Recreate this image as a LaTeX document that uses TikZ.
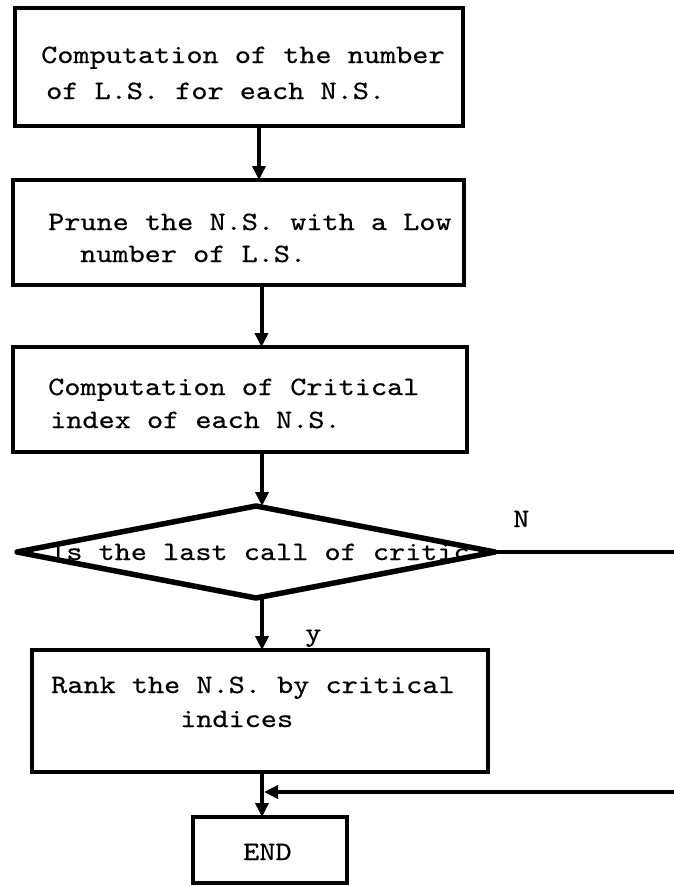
\documentclass[tikz,border=0pt]{standalone}
\usepackage{fontspec}
\usetikzlibrary{shapes.geometric,arrows.meta}

% typewriter face, widened and darkened a little
\newfontfamily\twfont{lmmono10-regular.otf}[FakeStretch=1.16, FakeBold=0.5]

\begin{document}
\begin{tikzpicture}[x=1pt,y=-1pt,
  box/.style={draw, line width=4.5pt, rectangle, inner sep=0pt, outer sep=0pt},
  decision/.style={draw, line width=5.5pt, diamond, line join=round, inner sep=0pt, outer sep=0pt},
  txt/.style={inner sep=0pt, anchor=base west, font=\twfont\fontsize{26.5}{30}\selectfont},
  flow/.style={line width=4pt},
  arr/.style={flow, -{Triangle[width=13pt,length=14pt]}}
]
\useasboundingbox[fill=white] (0,0) rectangle (673,886);

% boxes
\node[box, minimum width=448pt, minimum height=118pt] (b1) at (239,67) {};
\node[box, minimum width=451pt, minimum height=105pt] (b2) at (238.5,232.5) {};
\node[box, minimum width=454pt, minimum height=105pt] (b3) at (240,399.5) {};
\node[decision, minimum width=478pt, minimum height=92pt] (d) at (256,552) {};
\node[box, minimum width=456pt, minimum height=122pt] (b4) at (260,711) {};
\node[box, minimum width=154pt, minimum height=66pt] (e) at (270,850) {};

% texts
\node[txt] (t1a) at (41,63) {Computation of the number};
\node[txt] (t1b) at (46,99) {of L.S. for each N.S.};
\node[txt] (t2a) at (48,230) {Prune the N.S. with a Low};
\node[txt] (t2b) at (80,262) {number of L.S.};
\node[txt] (t3a) at (48,395) {Computation of Critical};
\node[txt] (t3b) at (50,428) {index of each N.S.};
\node[txt] (td)  at (50,560) {Is the last call of critic};
\node[txt] (tn)  at (513,527) {N};
\node[txt] (ty)  at (305,641) {y};
\node[txt] (t4a) at (51,693) {Rank the N.S. by critical};
\node[txt] (t4b) at (180,727) {indices};
\node[txt] (te)  at (243,860) {END};

% connectors
\coordinate (j) at (262,792);
\coordinate (rt) at (700,552);
\draw[arr] ([xshift=20pt]b1.south) -- ([xshift=20pt]b1.south |- b2.north);
\draw[arr] ([xshift=23pt]b2.south) -- ([xshift=23pt]b2.south |- b3.north);
\draw[arr] ([xshift=22pt]b3.south) -- ([xshift=22pt]b3.south |- d.north);
\draw[arr] ([xshift=6pt]d.south) -- ([xshift=6pt]d.south |- b4.north);
\draw[flow] ([xshift=2pt]b4.south) -- (j);
\draw[arr] (j) -- (j |- e.north);
\draw[arr, shorten >=2pt] (d.east) -- (rt) |- (j);
\end{tikzpicture}
\end{document}
